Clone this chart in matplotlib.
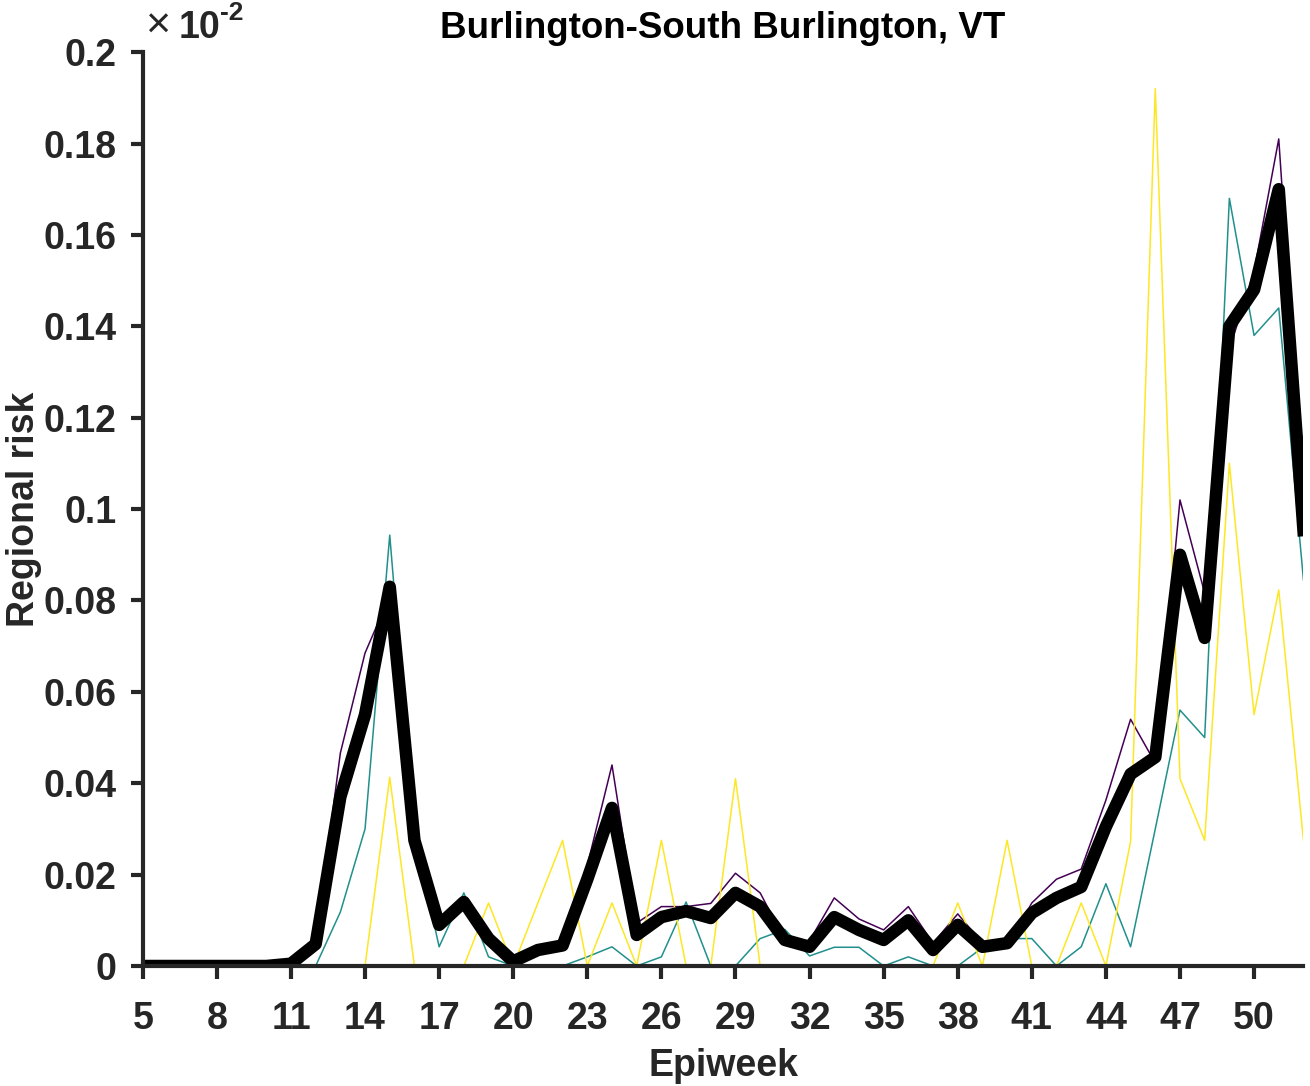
import numpy as np
import matplotlib
matplotlib.use('Agg')
import matplotlib.pyplot as plt

# Data (values as shown on axis, x 10^-2)
weeks = list(range(5, 53))

mean_risk = [0, 0, 0, 0, 0, 0, 0.0005, 0.0048, 0.037, 0.055, 0.083, 0.0275,
             0.009, 0.014, 0.006, 0.001, 0.0035, 0.0045, 0.019, 0.0346, 0.0068, 0.0107,
             0.012, 0.0105, 0.016, 0.013, 0.0057, 0.0042, 0.0107, 0.0079, 0.0057, 0.010,
             0.0035, 0.009, 0.0042, 0.005, 0.0116, 0.0149, 0.0173, 0.0305, 0.042, 0.0457,
             0.090, 0.0718, 0.140, 0.148, 0.170, 0.0954]

purple_risk = [0, 0, 0, 0, 0, 0, 0.0005, 0.005, 0.0466, 0.0685, 0.081, 0.0275,
               0.0107, 0.0138, 0.006, 0.0005, 0.0044, 0.005, 0.022, 0.044, 0.0094, 0.013,
               0.013, 0.0137, 0.0203, 0.016, 0.0057, 0.0055, 0.0149, 0.0103, 0.0079, 0.013,
               0.005, 0.0114, 0.005, 0.0042, 0.0138, 0.019, 0.0212, 0.0363, 0.054, 0.0444,
               0.102, 0.0816, 0.135, 0.152, 0.181, 0.101]

teal_risk = [0, 0, 0, 0, 0, 0, 0, 0, 0.0118, 0.030, 0.0943, 0.0287,
             0.0042, 0.016, 0.002, 0, 0, 0, 0.002, 0.0042, 0, 0.002,
             0.014, 0, 0, 0.006, 0.008, 0.0022, 0.0041, 0.0041, 0, 0.002,
             0, 0, 0.004, 0.006, 0.006, 0, 0.0042, 0.018, 0.0042, 0.030,
             0.056, 0.050, 0.168, 0.138, 0.144, 0.0845]

yellow_risk = [0, 0, 0, 0, 0, 0, 0, 0, 0, 0, 0.0413, 0,
               0, 0, 0.0138, 0, 0.0138, 0.0275, 0, 0.0138, 0, 0.0275,
               0, 0, 0.041, 0, 0, 0, 0, 0, 0, 0,
               0, 0.0138, 0, 0.0275, 0, 0, 0.0138, 0, 0.0272, 0.192,
               0.041, 0.0275, 0.110, 0.055, 0.0823, 0.0275]

xticks = list(range(5, 51, 3))
yticks = [0, 0.02, 0.04, 0.06, 0.08, 0.1, 0.12, 0.14, 0.16, 0.18, 0.2]
ytick_labels = ['0', '0.02', '0.04', '0.06', '0.08', '0.1', '0.12', '0.14', '0.16', '0.18', '0.2']

plt.rcParams['font.family'] = ['Liberation Sans', 'DejaVu Sans']
plt.rcParams['font.weight'] = 'bold'

fig = plt.figure(figsize=(13.1, 10.86), dpi=100)
ax = fig.add_axes([0.109, 0.1105, 0.886, 0.8415])

ax.plot(weeks, purple_risk, color='#440154', lw=1.1)
ax.plot(weeks, teal_risk, color='#21908d', lw=1.1)
ax.plot(weeks, yellow_risk, color='#fde725', lw=1.1)
ax.plot(weeks, mean_risk, color='black', lw=9, solid_joinstyle='round')

ax.set_xlim(5, 52)
ax.set_ylim(0, 0.2)
ax.set_xticks(xticks)
ax.set_yticks(yticks)
ax.set_yticklabels(ytick_labels)

for side in ['top', 'right']:
    ax.spines[side].set_visible(False)
for side in ['left', 'bottom']:
    ax.spines[side].set_linewidth(3)
    ax.spines[side].set_color('#262626')

ax.tick_params(axis='both', direction='out', length=9, width=3, color='#262626',
               labelsize=27, labelcolor='#262626')
ax.tick_params(axis='x', pad=16)
ax.tick_params(axis='y', pad=10)
for lab in ax.get_xticklabels() + ax.get_yticklabels():
    lab.set_fontweight('bold')

ax.set_title('Burlington-South Burlington, VT', fontsize=26.5, fontweight='bold', pad=10)
ax.set_xlabel('Epiweek', fontsize=27, fontweight='bold', color='#262626', labelpad=8)
ax.set_ylabel('Regional risk', fontsize=27, fontweight='bold', color='#262626', labelpad=1)

fig.text(0.111, 0.965, '\u00d7', fontsize=31, fontweight='normal', color='#262626', va='baseline')
fig.text(0.136, 0.965, '10', fontsize=27, fontweight='bold', color='#262626', va='baseline')
fig.text(0.168, 0.982, '-2', fontsize=19, fontweight='bold', color='#262626', va='baseline')

fig.savefig('out.png', dpi=100)
